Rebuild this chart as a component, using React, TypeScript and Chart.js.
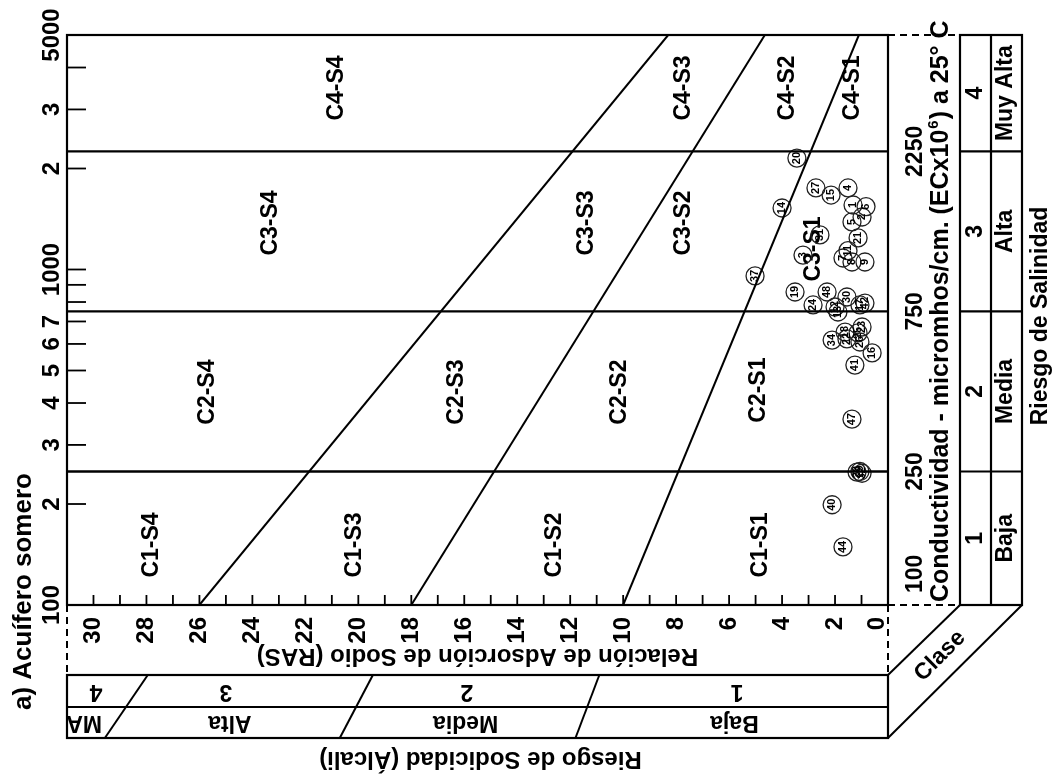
import React, { useEffect, useRef } from "react";
import { Chart, registerables } from "chart.js";

Chart.register(...registerables);

// ---------------- data ----------------
const rasTickValues = [1, 2, 3, 4, 5, 6, 7, 8, 9, 10, 11, 12, 13, 14, 15, 16, 17, 18, 19, 20, 21, 22, 23, 24, 25, 26, 27, 28, 29, 30];
const rasLabelValues = [0, 2, 4, 6, 8, 10, 12, 14, 16, 18, 20, 22, 24, 26, 28, 30];
const ecTickValues = [200, 300, 400, 500, 600, 700, 800, 900, 1000, 2000, 3000, 4000];
const ecLabelValues = [100, 200, 300, 400, 500, 600, 700, 1000, 2000, 3000, 5000];
const ecLabelTexts = ["100", "2", "3", "4", "5", "6", "7", "1000", "2", "3", "5000"];

const salinityLimits = [250, 750, 2250];
const salinityEdgeValues = [100, 250, 750, 2250];
const salinityEdgeTexts = ["100", "250", "750", "2250"];
const salinityClassLow = [100, 250, 750, 2250];
const salinityClassHigh = [250, 750, 2250, 5000];
const salinityClassNums = ["1", "2", "3", "4"];
const salinityClassNames = ["Baja", "Media", "Alta", "Muy Alta"];

const sodicityClassNums = ["4", "3", "2", "1"];
const sodicityClassNames = ["MA", "Alta", "Media", "Baja"];

// boundary lines: RAS at EC = 100 and at EC = 5000
const boundaryEC = [100, 5000];
const boundaryS1S2 = [10, 1.1];
const boundaryS2S3 = [18, 4.65];
const boundaryS3S4 = [26, 8.3];

const zoneNames = [
  "C4-S4", "C4-S3", "C4-S2", "C4-S1",
  "C3-S4", "C3-S3", "C3-S2", "C3-S1",
  "C2-S4", "C2-S3", "C2-S2", "C2-S1",
  "C1-S4", "C1-S3", "C1-S2", "C1-S1",
];
const zoneRAS = [
  20.8, 7.7, 3.77, 1.32,
  23.3, 11.36, 7.7, 2.79,
  25.7, 16.3, 10.15, 4.9,
  27.8, 20.15, 12.6, 4.8,
];
const zoneEC = [
  3475, 3475, 3475, 3475,
  1376, 1376, 1376, 1151,
  431, 431, 431, 437,
  151, 151, 151, 151,
];

const sampleIds = [20, 27, 15, 4, 14, 1, 2, 5, 6, 31, 21, 3, 7, 8, 9, 11, 19, 48, 30, 24, 42, 12, 13, 17, 34, 18, 22, 23, 25, 26, 16, 41, 47, 28, 29, 32, 40, 44, 37];
const sampleRAS = [3.44, 2.72, 2.15, 1.51, 4.0, 1.32, 0.98, 1.36, 0.83, 2.57, 1.13, 3.21, 1.7, 1.36, 0.87, 1.51, 3.51, 2.3, 1.55, 2.83, 0.87, 2.0, 1.89, 1.06, 2.11, 1.62, 1.55, 0.98, 1.13, 1.06, 0.6, 1.25, 1.36, 1.17, 1.06, 0.98, 2.11, 1.7, 5.02];
const sampleEC = [2148, 1750, 1667, 1750, 1525, 1557, 1434, 1386, 1540, 1268, 1242, 1104, 1082, 1053, 1053, 1138, 857, 857, 828, 784, 794, 773, 747, 784, 616, 651, 621, 674, 647, 608, 564, 519, 358, 249, 250, 247, 199, 149, 957];

// ---------------- layout (decoration anchors in axis units) ----------------
const sodNumRAS = [29.9, 25.0, 15.9, 5.7];
const sodNameRAS = [30.35, 24.85, 15.95, 5.8];
const sodSepTopRAS = [27.95, 19.45, 10.9];
const sodSepBottomRAS = [29.57, 20.7, 11.8];

const FONT = "'Liberation Sans', Arial, Helvetica, sans-serif";

function txt(
  ctx: CanvasRenderingContext2D,
  s: string,
  x: number,
  y: number,
  rot: number,
  size: number,
  align: CanvasTextAlign = "center",
  weight = "bold"
) {
  ctx.save();
  ctx.translate(x, y);
  ctx.rotate(rot);
  ctx.font = `${weight} ${size}px ${FONT}`;
  ctx.textAlign = align;
  ctx.textBaseline = "middle";
  ctx.fillStyle = "#000";
  ctx.fillText(s, 0, 0);
  ctx.restore();
}

function seg(ctx: CanvasRenderingContext2D, x1: number, y1: number, x2: number, y2: number) {
  ctx.beginPath();
  ctx.moveTo(x1, y1);
  ctx.lineTo(x2, y2);
  ctx.stroke();
}

const UP = -Math.PI / 2;

const decor = {
  id: "wilcoxDecor",
  beforeDatasetsDraw(chart: any) {
    const { ctx, scales } = chart;
    const x = scales.x;
    const y = scales.y;
    zoneNames.forEach((n, i) => {
      txt(ctx, n, x.getPixelForValue(zoneRAS[i]), y.getPixelForValue(zoneEC[i]), UP, 23);
    });
  },
  afterDatasetsDraw(chart: any) {
    const { ctx, chartArea: a, scales } = chart;
    const x = scales.x;
    const y = scales.y;

    // sample numbers
    const meta = chart.getDatasetMeta(chart.data.datasets.length - 1);
    meta.data.forEach((pt: any, i: number) => {
      txt(ctx, String(sampleIds[i]), pt.x, pt.y, UP, 11, "center", "bold");
    });

    ctx.save();
    ctx.strokeStyle = "#000";
    ctx.lineWidth = 2.2;
    ctx.strokeRect(a.left, a.top, a.right - a.left, a.bottom - a.top);

    // inward ticks
    ctx.lineWidth = 1.8;
    rasTickValues.forEach((v) => {
      const px = x.getPixelForValue(v);
      seg(ctx, px, a.bottom, px, a.bottom - 10);
    });
    ecTickValues.forEach((v) => {
      const py = y.getPixelForValue(v);
      seg(ctx, a.left, py, a.left + 19, py);
    });

    // tick labels
    ecLabelValues.forEach((v, i) => {
      txt(ctx, ecLabelTexts[i], a.left - 15, y.getPixelForValue(v), UP, 24);
    });
    rasLabelValues.forEach((v) => {
      let px = x.getPixelForValue(v);
      if (v === 0) px = a.right - 11;
      txt(ctx, String(v), px, a.bottom + 12, UP, 24, "right");
    });

    // RAS title (upside down)
    txt(ctx, "Relación de Adsorción de Sodio (RAS)", (a.left + a.right) / 2, a.bottom + 51, Math.PI, 24);

    // dashed connectors
    ctx.lineWidth = 2;
    ctx.setLineDash([7, 5]);
    seg(ctx, a.left, a.bottom, a.left, a.bottom + 70);
    seg(ctx, a.right, a.bottom, a.right, a.bottom + 70);
    seg(ctx, a.right, a.bottom, a.right + 72, a.bottom);
    seg(ctx, a.right, a.top, a.right + 72, a.top);
    ctx.setLineDash([]);

    // sodicity table
    const tTop = a.bottom + 70;
    const tMid = a.bottom + 102;
    const tBot = a.bottom + 133;
    ctx.lineWidth = 2.2;
    ctx.strokeRect(a.left, tTop, a.right - a.left, tBot - tTop);
    seg(ctx, a.left, tMid, a.right, tMid);
    ctx.lineWidth = 2;
    sodSepTopRAS.forEach((v, i) => {
      seg(ctx, x.getPixelForValue(v), tTop, x.getPixelForValue(sodSepBottomRAS[i]), tBot);
    });
    sodicityClassNums.forEach((s, i) => {
      txt(ctx, s, x.getPixelForValue(sodNumRAS[i]), (tTop + tMid) / 2, Math.PI, 23);
    });
    sodicityClassNames.forEach((s, i) => {
      txt(ctx, s, x.getPixelForValue(sodNameRAS[i]), (tMid + tBot) / 2, Math.PI, 23);
    });
    txt(ctx, "Riesgo de Sodicidad (Álcali)", (a.left + a.right) / 2 + 3, a.bottom + 154, Math.PI, 24);

    // salinity table
    const sL = a.right + 72;
    const sM = a.right + 103;
    const sR = a.right + 134;
    ctx.lineWidth = 2.2;
    ctx.strokeRect(sL, a.top, sR - sL, a.bottom - a.top);
    seg(ctx, sM, a.top, sM, a.bottom);
    salinityLimits.forEach((v) => {
      const py = y.getPixelForValue(v);
      seg(ctx, sL, py, sR, py);
    });
    salinityClassNums.forEach((s, i) => {
      const py = y.getPixelForValue(Math.sqrt(salinityClassLow[i] * salinityClassHigh[i]));
      txt(ctx, s, a.right + 88, py, UP, 23);
      txt(ctx, salinityClassNames[i], a.right + 118, py, UP, 23);
    });
    txt(ctx, "Riesgo de Salinidad", a.right + 153, (a.top + a.bottom) / 2 - 4, UP, 23);

    // box to "Clase"
    ctx.lineWidth = 2;
    seg(ctx, sL, a.bottom, a.right, tTop);
    seg(ctx, sR, a.bottom, a.right, tBot);
    txt(ctx, "Clase", a.right + 52, a.bottom + 51, -Math.PI / 4, 23);

    // conductivity edge labels
    salinityEdgeValues.forEach((v, i) => {
      const py = y.getPixelForValue(v);
      if (i === 0) txt(ctx, salinityEdgeTexts[i], a.right + 28, py - 12, UP, 23, "left");
      else txt(ctx, salinityEdgeTexts[i], a.right + 28, py, UP, 23);
    });

    // conductivity title with superscript
    ctx.save();
    ctx.translate(a.right + 53, a.bottom - 3);
    ctx.rotate(UP);
    ctx.fillStyle = "#000";
    ctx.textBaseline = "middle";
    ctx.textAlign = "left";
    const p1 = "Conductividad - micromhos/cm. (ECx10";
    const p3 = ") a 25° C";
    ctx.font = `bold 25px ${FONT}`;
    const w1 = ctx.measureText(p1).width;
    ctx.fillText(p1, 0, 0);
    ctx.font = `bold 15px ${FONT}`;
    const w2 = ctx.measureText("6").width;
    ctx.fillText("6", w1 + 1, -7);
    ctx.font = `bold 25px ${FONT}`;
    ctx.fillText(p3, w1 + w2 + 2, 0);
    ctx.restore();

    // panel title
    txt(ctx, "a) Acuífero somero", a.left - 43, a.bottom + 105, UP, 26, "left");

    ctx.restore();
  },
};

function lineSet(ras: number[]) {
  return {
    type: "scatter" as const,
    data: boundaryEC.map((e, i) => ({ x: ras[i], y: e })),
    showLine: true,
    borderColor: "#000",
    borderWidth: 2,
    pointRadius: 0,
    fill: false,
  };
}

function levelSet(ec: number) {
  return {
    type: "scatter" as const,
    data: [
      { x: 0, y: ec },
      { x: 31, y: ec },
    ],
    showLine: true,
    borderColor: "#000",
    borderWidth: 2.4,
    pointRadius: 0,
    fill: false,
  };
}

export default function App() {
  const ref = useRef<HTMLCanvasElement>(null);
  useEffect(() => {
    if (!ref.current) return;
    const chart = new Chart(ref.current, {
      type: "scatter",
      data: {
        datasets: [
          lineSet(boundaryS1S2),
          lineSet(boundaryS2S3),
          lineSet(boundaryS3S4),
          ...salinityLimits.map((v) => levelSet(v)),
          {
            type: "scatter",
            data: sampleRAS.map((r, i) => ({ x: r, y: sampleEC[i] })),
            pointRadius: 9,
            pointBackgroundColor: "rgba(255,255,255,0)",
            pointBorderColor: "#222",
            pointBorderWidth: 1.3,
          } as any,
        ],
      },
      options: {
        animation: false,
        responsive: false,
        devicePixelRatio: 1,
        layout: { padding: { left: 67, top: 35, right: 165, bottom: 170 } },
        plugins: { legend: { display: false }, tooltip: { enabled: false } },
        scales: {
          x: { type: "linear", reverse: true, min: 0, max: 31, display: false },
          y: { type: "logarithmic", min: 100, max: 5000, display: false },
        },
      },
      plugins: [decor],
    } as any);
    return () => chart.destroy();
  }, []);
  return (
    <div style={{ position: "absolute", left: 0, top: 0, width: 1053, height: 775, background: "#fff" }}>
      <canvas ref={ref} width={1053} height={775} style={{ display: "block", width: 1053, height: 775 }} />
    </div>
  );
}
